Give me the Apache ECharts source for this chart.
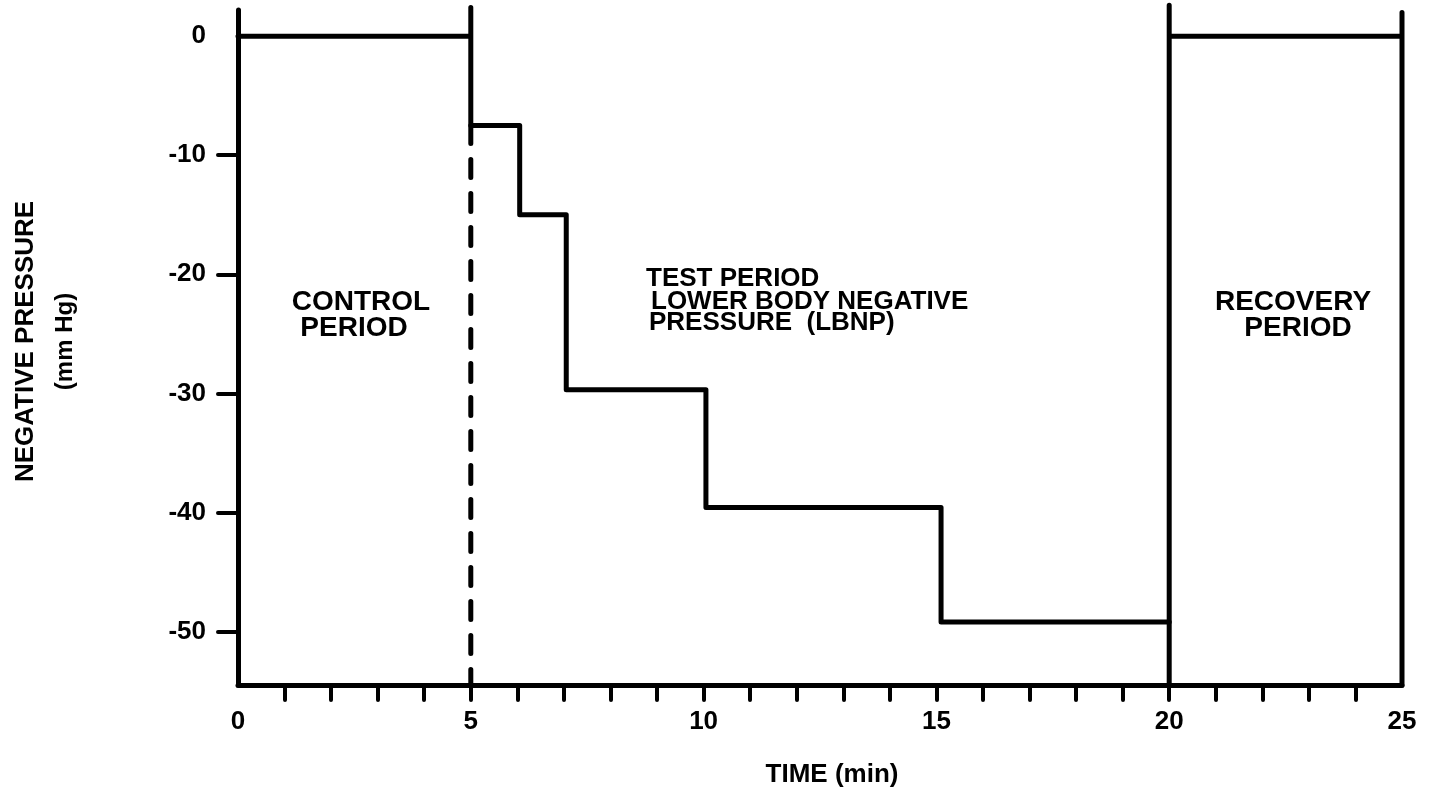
<!DOCTYPE html>
<html>
<head>
<meta charset="utf-8">
<title>LBNP protocol</title>
<script src="https://cdn.jsdelivr.net/npm/echarts@6/dist/echarts.min.js"></script>
<style>
  html, body { margin: 0; padding: 0; background: #fff; }
  #chart { width: 1437px; height: 804px; }
</style>
</head>
<body>
<div id="chart"></div>
<script>
// axis ticks and labels
var timeTicks = [1, 2, 3, 4, 5, 6, 7, 8, 9, 10, 11, 12, 13, 14, 15, 16, 17, 18, 19, 20, 21, 22, 23, 24];
var timeLabels = [0, 5, 10, 15, 20, 25];
var pressureTicks = [-10, -20, -30, -40, -50];
var pressureLabels = [0, -10, -20, -30, -40, -50];

// control period: time (min) / pressure (mm Hg)
var controlTime = [0, 5];
var controlLevel = [0, 0];

// test period steps (LBNP)
var stepStart = [5, 6.05, 7.05, 10.05, 15.1];
var stepEnd = [6.05, 7.05, 10.05, 15.1, 20];
var stepLevel = [-7.5, -15, -29.7, -39.6, -49.2];

// recovery period
var recoveryTime = [20, 25];
var recoveryLevel = [0, 0];

// period boundary marks and how far they stick out above the 0 line
var boundaryTime = [5, 20, 25];
var boundaryTop = [2.4, 2.6, 2.0];

var yMin = -54.5, yMax = 2.2;
var font = 'Liberation Sans, Arial, Helvetica, sans-serif';

// solid line: control + test
var testLine = [];
testLine.push([controlTime[0], controlLevel[0]]);
testLine.push([controlTime[1], controlLevel[1]]);
testLine.push([boundaryTime[0], boundaryTop[0]]);
for (var i = 0; i < stepStart.length; i++) {
  testLine.push([stepStart[i], stepLevel[i]]);
  testLine.push([stepEnd[i], stepLevel[i]]);
}

// dashed boundary at start of test
var dashLine = [[stepStart[0], stepLevel[0]], [stepStart[0], yMin]];

// recovery box
var recoveryLine = [
  [boundaryTime[1], yMin],
  [boundaryTime[1], boundaryTop[1]],
  [recoveryTime[0], recoveryLevel[0]],
  [recoveryTime[1], recoveryLevel[1]],
  [boundaryTime[2], boundaryTop[2]],
  [boundaryTime[2], yMin]
];

var chart = echarts.init(document.getElementById('chart'));

var lineStyle = { color: '#000', width: 5, cap: 'round', join: 'round' };

var option = {
  animation: false,
  backgroundColor: '#fff',
  textStyle: { fontFamily: font },
  grid: { left: 238, right: 35, top: 10, bottom: 119 },
  xAxis: {
    type: 'value',
    min: 0,
    max: 25,
    name: 'TIME (min)',
    nameLocation: 'middle',
    nameGap: 77,
    nameTextStyle: { fontSize: 26, fontWeight: 'bold', color: '#000', fontFamily: font, padding: [0, 0, 0, 24] },
    axisLine: { show: true, onZero: false, lineStyle: { color: '#000', width: 5 } },
    axisTick: { show: true, customValues: timeTicks, length: 15, lineStyle: { color: '#000', width: 4, cap: 'round' } },
    axisLabel: { customValues: timeLabels, margin: 24, fontSize: 26, fontWeight: 'bold', color: '#000', fontFamily: font },
    splitLine: { show: false }
  },
  yAxis: {
    type: 'value',
    min: yMin,
    max: yMax,
    name: '{a|NEGATIVE PRESSURE}\n{b|(mm Hg)}',
    nameLocation: 'middle',
    nameRotate: 90,
    nameGap: 153,
    nameTextStyle: {
      color: '#000',
      align: 'center',
      padding: [0, 0, 0, 12],
      rich: {
        a: { fontSize: 26, fontWeight: 'bold', fontFamily: font, lineHeight: 38, color: '#000' },
        b: { fontSize: 24, fontWeight: 'bold', fontFamily: font, lineHeight: 40, color: '#000' }
      }
    },
    axisLine: { show: true, onZero: false, lineStyle: { color: '#000', width: 5 } },
    axisTick: { show: true, customValues: pressureTicks, length: 20, lineStyle: { color: '#000', width: 4, cap: 'round' } },
    axisLabel: { customValues: pressureLabels, margin: 32, fontSize: 26, fontWeight: 'bold', color: '#000', fontFamily: font },
    splitLine: { show: false }
  },
  series: [
    {
      name: 'LBNP',
      type: 'line',
      data: testLine,
      symbol: 'none',
      clip: false,
      lineStyle: lineStyle
    },
    {
      name: 'start of test',
      type: 'line',
      data: dashLine,
      symbol: 'none',
      clip: false,
      lineStyle: { color: '#000', width: 5, type: [18, 16], cap: 'round' }
    },
    {
      name: 'recovery',
      type: 'line',
      data: recoveryLine,
      symbol: 'none',
      clip: false,
      lineStyle: lineStyle
    }
  ],
  graphic: [
    { type: 'text', x: 361, y: 302, style: { text: 'CONTROL', fontSize: 28, fontWeight: 'bold', fontFamily: font, fill: '#000', align: 'center', verticalAlign: 'middle' } },
    { type: 'text', x: 354, y: 328, style: { text: 'PERIOD', fontSize: 28, fontWeight: 'bold', fontFamily: font, fill: '#000', align: 'center', verticalAlign: 'middle' } },
    { type: 'text', x: 646, y: 279, style: { text: 'TEST PERIOD', fontSize: 26, fontWeight: 'bold', fontFamily: font, fill: '#000', align: 'left', verticalAlign: 'middle' } },
    { type: 'text', x: 651, y: 302, style: { text: 'LOWER BODY NEGATIVE', fontSize: 26, fontWeight: 'bold', fontFamily: font, fill: '#000', align: 'left', verticalAlign: 'middle' } },
    { type: 'text', x: 649, y: 323, style: { text: 'PRESSURE  (LBNP)', fontSize: 26, fontWeight: 'bold', fontFamily: font, fill: '#000', align: 'left', verticalAlign: 'middle' } },
    { type: 'text', x: 1293, y: 302, style: { text: 'RECOVERY', fontSize: 28, fontWeight: 'bold', fontFamily: font, fill: '#000', align: 'center', verticalAlign: 'middle' } },
    { type: 'text', x: 1298, y: 328, style: { text: 'PERIOD', fontSize: 28, fontWeight: 'bold', fontFamily: font, fill: '#000', align: 'center', verticalAlign: 'middle' } }
  ]
};

chart.setOption(option);
</script>
</body>
</html>
